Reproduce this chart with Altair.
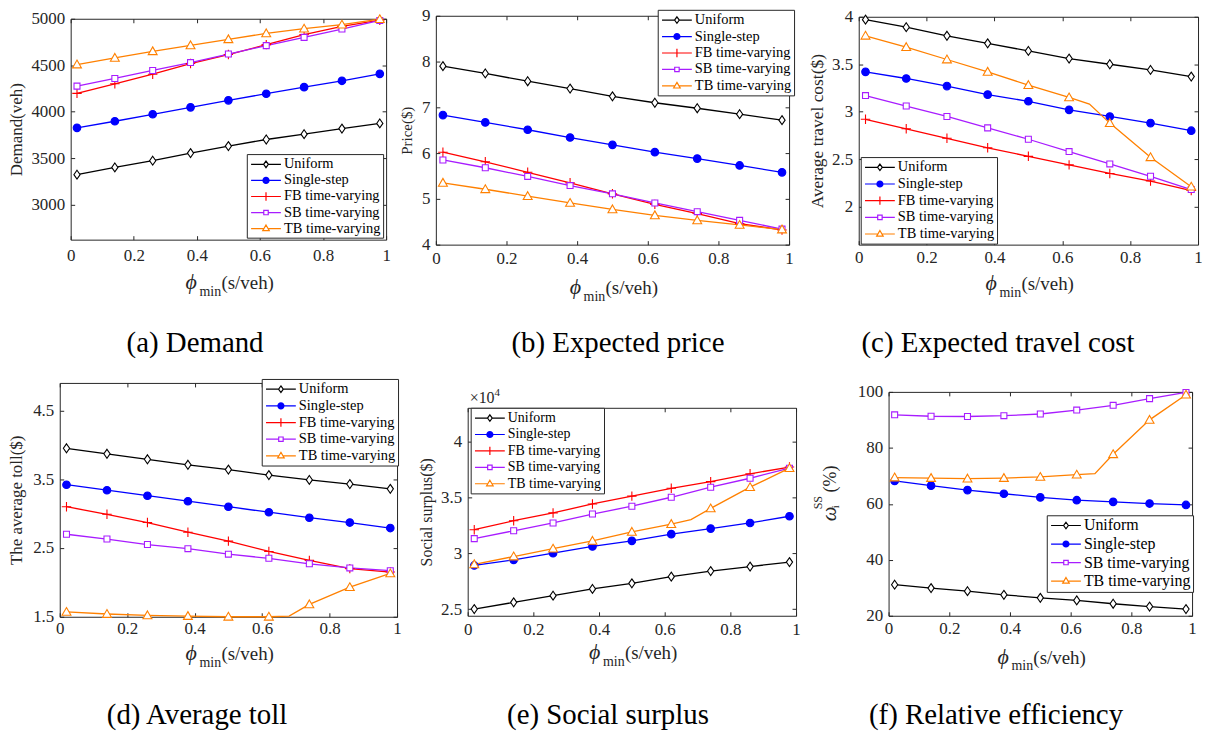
import altair as alt
import pandas as pd

# ---------------- data ----------------
PHI = [0.02, 0.14, 0.26, 0.38, 0.50, 0.62, 0.74, 0.86, 0.98]
PHI_K = [0.02, 0.14, 0.26, 0.38, 0.50, 0.62, 0.68, 0.74, 0.86, 0.98]  # TB series with a kink point (no marker at 0.68)
XTICKS = [0, 0.2, 0.4, 0.6, 0.8, 1]

SERIES = ["Uniform", "Single-step", "FB time-varying", "SB time-varying", "TB time-varying"]
COLORS = ["#000000", "#0000ff", "#ff0000", "#a81cff", "#ff8000"]

DEMAND_UNIFORM = [3324, 3402, 3474, 3556, 3631, 3702, 3759, 3819, 3875]
DEMAND_SINGLE = [3827, 3898, 3973, 4048, 4123, 4194, 4265, 4333, 4408]
DEMAND_FB = [4198, 4301, 4404, 4519, 4615, 4722, 4829, 4918, 4985]
DEMAND_SB = [4276, 4358, 4444, 4529, 4621, 4711, 4800, 4889, 4982]
DEMAND_TB = [4508, 4579, 4650, 4714, 4779, 4843, 4893, 4936, 4995]

PRICE_UNIFORM = [7.90, 7.74, 7.57, 7.41, 7.24, 7.10, 6.98, 6.85, 6.72]
PRICE_SINGLE = [6.83, 6.67, 6.51, 6.34, 6.18, 6.02, 5.88, 5.73, 5.58]
PRICE_FB = [6.02, 5.81, 5.58, 5.35, 5.11, 4.88, 4.68, 4.46, 4.32]
PRICE_SB = [5.85, 5.68, 5.49, 5.29, 5.11, 4.91, 4.72, 4.53, 4.34]
PRICE_TB = [5.35, 5.21, 5.06, 4.91, 4.77, 4.64, 4.53, 4.43, 4.33]

COST_UNIFORM = [3.97, 3.89, 3.80, 3.72, 3.64, 3.56, 3.50, 3.44, 3.37]
COST_SINGLE = [3.42, 3.35, 3.27, 3.18, 3.11, 3.02, 2.95, 2.88, 2.80]
COST_FB = [2.92, 2.82, 2.72, 2.62, 2.53, 2.44, 2.35, 2.27, 2.17]
COST_SB = [3.17, 3.06, 2.95, 2.83, 2.71, 2.58, 2.45, 2.32, 2.18]
COST_TB = [3.80, 3.68, 3.55, 3.42, 3.28, 3.15, 3.08, 2.88, 2.52, 2.21]

TOLL_UNIFORM = [3.95, 3.87, 3.79, 3.71, 3.64, 3.56, 3.49, 3.43, 3.36]
TOLL_SINGLE = [3.42, 3.34, 3.26, 3.18, 3.10, 3.02, 2.94, 2.87, 2.79]
TOLL_FB = [3.10, 2.99, 2.87, 2.73, 2.60, 2.45, 2.32, 2.20, 2.15]
TOLL_SB = [2.70, 2.63, 2.55, 2.49, 2.41, 2.35, 2.27, 2.21, 2.17]
TOLL_TB = [1.57, 1.54, 1.52, 1.51, 1.50, 1.50, 1.51, 1.68, 1.93, 2.13]

SURPLUS_UNIFORM = [2.50, 2.56, 2.62, 2.68, 2.73, 2.79, 2.84, 2.88, 2.92]
SURPLUS_SINGLE = [2.89, 2.94, 3.00, 3.06, 3.11, 3.17, 3.22, 3.27, 3.33]
SURPLUS_FB = [3.21, 3.29, 3.36, 3.44, 3.51, 3.58, 3.64, 3.71, 3.77]
SURPLUS_SB = [3.13, 3.20, 3.27, 3.35, 3.42, 3.50, 3.59, 3.67, 3.76]
SURPLUS_TB = [2.90, 2.97, 3.04, 3.11, 3.19, 3.26, 3.30, 3.40, 3.59, 3.76]

EFF_UNIFORM = [31.1, 29.9, 28.8, 27.5, 26.4, 25.5, 24.3, 23.3, 22.4]
EFF_SINGLE = [68.2, 66.5, 64.9, 63.6, 62.3, 61.3, 60.7, 60.1, 59.6]
EFF_SB = [91.8, 91.3, 91.2, 91.5, 92.1, 93.5, 95.2, 97.6, 99.8]
EFF_TB = [69.4, 69.2, 69.0, 69.2, 69.6, 70.4, 70.8, 77.7, 90.0, 99.0]

# ---------------- style ----------------
W, H = 1200, 725
FONT = "Liberation Serif"
GREEK = "Liberation Serif, DejaVu Serif"
AX = "#262626"
TS = 4
COLOR_OF = dict(zip(SERIES, COLORS))

MARKERS = {
    "Uniform": dict(shape="M0,-1L0.7,0L0,1L-0.7,0Z", size=80, fill="white"),
    "Single-step": dict(shape="circle", size=58, fill="#0000ff"),
    "FB time-varying": dict(shape="M-1,0H1M0,-1V1", size=90, fill="transparent"),
    "SB time-varying": dict(shape="square", size=36, fill="white"),
    "TB time-varying": dict(shape="M0,-1L1,0.75L-1,0.75Z", size=80, fill="white"),
}
# legend samples: symbol unit = 7px (symbolSize 196); line sample spans +-15px
LEG_SIZE = 196
LEG_SHAPES = {
    "Uniform": "M-2.14,0H-0.34M0.34,0H2.14M0,-0.47L0.34,0L0,0.47L-0.34,0Z",
    "Single-step": "M-2.14,0H2.14M0.43,0A0.43,0.43 0 1,1 -0.43,0A0.43,0.43 0 1,1 0.43,0"
                   "M0.26,0A0.26,0.26 0 1,1 -0.26,0A0.26,0.26 0 1,1 0.26,0"
                   "M0.1,0A0.1,0.1 0 1,1 -0.1,0A0.1,0.1 0 1,1 0.1,0",
    "FB time-varying": "M-2.14,0H2.14M0,-0.6V0.6",
    "SB time-varying": "M-2.14,0H-0.32M0.32,0H2.14M-0.32,-0.32H0.32V0.32H-0.32Z",
    "TB time-varying": "M-2.14,0H-0.28M0.28,0H2.14M0,-0.51L0.47,0.3L-0.47,0.3Z",
}

PANELS = [
    dict(series=[("Uniform", PHI, DEMAND_UNIFORM), ("Single-step", PHI, DEMAND_SINGLE),
                 ("FB time-varying", PHI, DEMAND_FB), ("SB time-varying", PHI, DEMAND_SB),
                 ("TB time-varying", PHI, DEMAND_TB)],
         box=(63, 380, 9, 231), ydom=(2625, 5000), yticks=[3000, 3500, 4000, 4500, 5000], yfmt="d",
         ytitle="Demand(veh)", ytfs=17, ytx=-45.5, xpad=8, xtb=281,
         legend=(240, 145, 14.5, 1.15), caption=("(a) Demand", 188, 344)),
    dict(series=[("Uniform", PHI, PRICE_UNIFORM), ("Single-step", PHI, PRICE_SINGLE),
                 ("FB time-varying", PHI, PRICE_FB), ("SB time-varying", PHI, PRICE_SB),
                 ("TB time-varying", PHI, PRICE_TB)],
         box=(430, 785, 6, 236), ydom=(4, 9), yticks=[4, 5, 6, 7, 8, 9], yfmt="d",
         ytitle="Price($)", ytfs=15, ytx=-21, xpad=6, xtb=286,
         legend=(653, 0, 14.5, 1.55), caption=("(b) Expected price", 613, 344)),
    dict(series=[("Uniform", PHI, COST_UNIFORM), ("Single-step", PHI, COST_SINGLE),
                 ("FB time-varying", PHI, COST_FB), ("SB time-varying", PHI, COST_SB),
                 ("TB time-varying", PHI_K, COST_TB)],
         box=(855, 1196, 7, 236), ydom=(1.6, 4), yticks=[2, 2.5, 3, 3.5, 4], yfmt=".1~f",
         ytitle="Average travel cost($)", ytfs=17.5, ytx=-32, xpad=5, xtb=282,
         legend=(857, 148, 14.5, 1.75), caption=("(c) Expected travel cost", 995, 344)),
    dict(series=[("Uniform", PHI, TOLL_UNIFORM), ("Single-step", PHI, TOLL_SINGLE),
                 ("FB time-varying", PHI, TOLL_FB), ("SB time-varying", PHI, TOLL_SB),
                 ("TB time-varying", PHI_K, TOLL_TB)],
         box=(52, 391, 375, 610), ydom=(1.5, 4.9), yticks=[1.5, 2.5, 3.5, 4.5], yfmt=".1~f",
         ytitle="The average toll($)", ytfs=17, ytx=-34, xpad=4, xtb=653,
         legend=(255, 371, 14.5, 1.75), caption=("(d) Average toll", 190, 718)),
    dict(series=[("Uniform", PHI, SURPLUS_UNIFORM), ("Single-step", PHI, SURPLUS_SINGLE),
                 ("FB time-varying", PHI, SURPLUS_FB), ("SB time-varying", PHI, SURPLUS_SB),
                 ("TB time-varying", PHI_K, SURPLUS_TB)],
         box=(462, 792, 400, 609), ydom=(2.44, 4.3), yticks=[2.5, 3, 3.5, 4], yfmt=".1~f",
         ytitle="Social surplus($)", ytfs=16, ytx=-33, xpad=6, xtb=652,
         legend=(465, 400, 14, 1.5), caption=("(e) Social surplus", 603, 718)),
    dict(series=[("Uniform", PHI, EFF_UNIFORM), ("Single-step", PHI, EFF_SINGLE),
                 ("SB time-varying", PHI, EFF_SB), ("TB time-varying", PHI_K, EFF_TB)],
         box=(885, 1190, 384, 609), ydom=(20, 100), yticks=[20, 40, 60, 80, 100], yfmt="d",
         ytitle=None, ytfs=16, ytx=-40, xpad=5, xtb=657,
         legend=(1044, 508, 16, 2.6), caption=("(f) Relative efficiency", 993, 718)),
]


def text_layer(s, x, y, size, angle=None, align="left", style=None, color="black", font=FONT):
    kw = dict(font=font, fontSize=size, align=align, baseline="alphabetic", color=color)
    if angle is not None:
        kw["angle"] = angle
    if style is not None:
        kw["fontStyle"] = style
    return alt.Chart(pd.DataFrame({"t": [s]})).mark_text(**kw).encode(
        x=alt.value(x), y=alt.value(y), text="t:N")


def build_panel(cfg):
    L, R, T, B = cfg["box"]
    rows = []
    for name, xs, ys in cfg["series"]:
        for i, (x, y) in enumerate(zip(xs, ys)):
            rows.append(dict(phi=x, value=y, series=name, marker=not (len(xs) == 10 and i == 6)))
    df = pd.DataFrame(rows)
    names = [s[0] for s in cfg["series"]]
    xsc = alt.Scale(domain=[0, 1], range=[L, R], nice=False, zero=False)
    ysc = alt.Scale(domain=list(cfg["ydom"]), range=[B, T], nice=False, zero=False)
    base = alt.Chart(df)
    layers = []

    ytitle_kw = dict(title=None)
    if cfg["ytitle"] is not None:
        ytitle_kw = dict(title=cfg["ytitle"], titleX=cfg["ytx"], titleY=(T + B) / 2, titleAngle=270,
                         titleBaseline="bottom", titleAlign="center", titleFontSize=cfg["ytfs"])
    for j, name in enumerate(names):
        if j == 0:
            xax = alt.Axis(orient="bottom", offset=B - H, values=XTICKS, format=".1~f", ticks=False,
                           domain=True, labelPadding=cfg["xpad"], title=None, grid=False,
                           labelFlush=False, labelOverlap=False)
            yax = alt.Axis(orient="left", offset=-L, values=cfg["yticks"], format=cfg["yfmt"], ticks=False,
                           domain=True, labelPadding=6, grid=False, labelFlush=False, labelOverlap=False,
                           **ytitle_kw)
        else:
            xax = None
            yax = None
        layers.append(
            base.transform_filter(alt.datum.series == name)
            .mark_line(stroke=COLOR_OF[name], strokeWidth=1.3)
            .encode(x=alt.X("phi:Q", scale=xsc, axis=xax), y=alt.Y("value:Q", scale=ysc, axis=yax))
        )
    for name in names:
        m = MARKERS[name]
        layers.append(
            base.transform_filter((alt.datum.series == name) & alt.datum.marker)
            .mark_point(filled=True, opacity=1, shape=m["shape"], size=m["size"], fill=m["fill"],
                        stroke=COLOR_OF[name], strokeWidth=1.1)
            .encode(x=alt.X("phi:Q", scale=xsc, axis=None), y=alt.Y("value:Q", scale=ysc, axis=None))
        )
    lx, ly, lfs, lrp = cfg["legend"]
    leg = alt.Legend(title=None, orient="none", legendX=lx, legendY=ly, symbolSize=LEG_SIZE,
                     symbolStrokeWidth=1.2, labelFont=FONT, labelFontSize=lfs, labelColor="black",
                     padding=2.3, rowPadding=lrp, labelOffset=10, symbolOffset=9, fillColor="white",
                     strokeColor=AX, labelLimit=400)
    layers.append(
        base.mark_point(size=0, filled=False, opacity=1, strokeWidth=1.2).encode(
            x=alt.X("phi:Q", scale=xsc, axis=None), y=alt.Y("value:Q", scale=ysc, axis=None),
            shape=alt.Shape("series:N", scale=alt.Scale(domain=names, range=[LEG_SHAPES[n] for n in names]),
                            legend=leg),
            stroke=alt.Stroke("series:N", scale=alt.Scale(domain=names, range=[COLOR_OF[n] for n in names]),
                              legend=leg),
        )
    )
    # inward ticks and the top/right edges of the box
    layers.append(
        base.mark_point(size=0, opacity=0).encode(
            x=alt.X("phi:Q", scale=xsc, axis=alt.Axis(orient="top", offset=-B, values=XTICKS, labels=False,
                                                       tickSize=TS, domain=False, grid=False, title=None)),
            y=alt.Y("value:Q", scale=ysc, axis=alt.Axis(orient="right", offset=L - W, values=cfg["yticks"],
                                                         labels=False, tickSize=TS, domain=False, grid=False,
                                                         title=None)),
        )
    )
    layers.append(
        base.mark_point(size=0, opacity=0).encode(
            x=alt.X("phi:Q", scale=xsc, axis=alt.Axis(orient="bottom", offset=T - H, values=XTICKS,
                                                       labels=False, tickSize=TS, domain=True, grid=False,
                                                       title=None)),
            y=alt.Y("value:Q", scale=ysc, axis=alt.Axis(orient="left", offset=-R, values=cfg["yticks"],
                                                         labels=False, tickSize=TS, domain=True, grid=False,
                                                         title=None)),
        )
    )
    panel = alt.layer(*layers).resolve_axis(x="independent", y="independent")

    texts = []
    cx = (L + R) / 2
    yb = cfg["xtb"]
    texts.append(text_layer("\u03d5", cx - 43, yb, 22, style="italic", color=AX, font=GREEK))
    texts.append(text_layer("min", cx - 29, yb + 7, 14, color=AX))
    texts.append(text_layer("(s/veh)", cx - 7, yb, 19, color=AX))
    cap, ccx, cby = cfg["caption"]
    texts.append(text_layer(cap, ccx, cby, 29, align="center"))
    return panel, texts


panels = []
extra = []
for cfg in PANELS:
    p, t = build_panel(cfg)
    panels.append(p)
    extra.extend(t)

# y title of panel (f): omega_i^SS(%)
extra.append(text_layer("\u03c9", 832, 514, 21, angle=270, style="italic", color=AX, font=GREEK))
extra.append(text_layer("SS", 818, 502, 12, angle=270, color=AX))
extra.append(text_layer("i", 835, 501, 11, angle=270, color=AX))
extra.append(text_layer("(%)", 832, 485, 18, angle=270, color=AX))
# exponent label of panel (e)
extra.append(text_layer("\u00d710", 464, 395, 16, color=AX))
extra.append(text_layer("4", 489, 388, 11, color=AX))

chart = (
    alt.layer(*panels, *extra)
    .resolve_scale(x="independent", y="independent", shape="independent", stroke="independent")
    .properties(width=W, height=H, autosize=alt.AutoSizeParams(type="none"), padding=0)
    .configure_view(strokeWidth=0)
    .configure_axis(labelFont=FONT, labelFontSize=17, labelColor=AX, titleFont=FONT, titleFontSize=15,
                    titleColor=AX, titleFontWeight="normal", domainColor=AX, tickColor=AX, domainWidth=1,
                    tickWidth=1)
)

chart.save("out.html", embed_options={"renderer": "svg", "actions": False})
